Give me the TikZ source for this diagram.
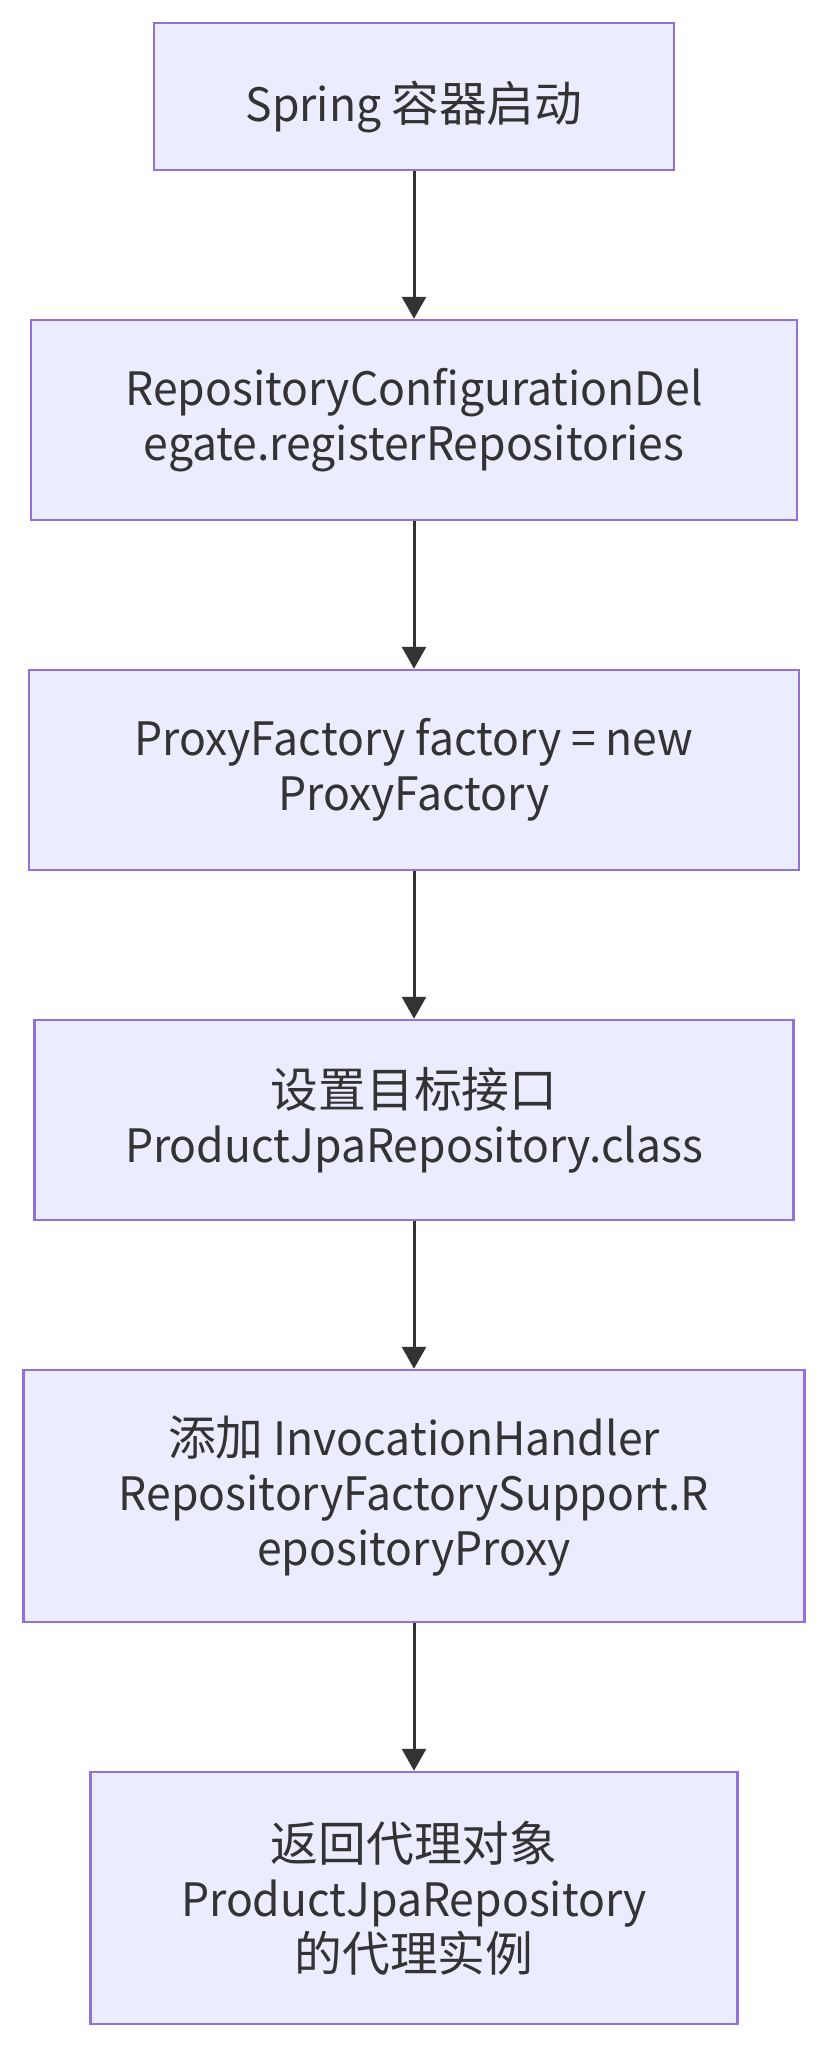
\documentclass[tikz,border=0pt]{standalone}
\usepackage{fontspec}
\setmainfont{Noto Sans CJK SC}[FakeStretch=0.967]
\newfontfamily\cjk{Noto Sans CJK SC}[Scale=1.038]
\usetikzlibrary{arrows.meta}
\definecolor{boxfill}{HTML}{ECECFF}
\definecolor{boxline}{HTML}{9370DB}
\definecolor{inkgray}{HTML}{333333}
\tikzset{
  stepbox/.style={draw=boxline, fill=boxfill, line width=2.5pt, text=inkgray,
    align=center, inner sep=0pt, font=\fontsize{46}{55}\selectfont,
    execute at begin node={\rule{0pt}{62pt}}},
  flowln/.style={-{Triangle[length=22pt,width=24pt]}, line width=3pt, draw=inkgray},
}
\begin{document}
\begin{tikzpicture}[x=1pt,y=-1pt]
  \useasboundingbox (0,0) rectangle (828,2047);
  % the six steps, top to bottom
  \node[stepbox, minimum width=520pt, minimum height=147pt] (start) at (414,96.5)
    {Spring {\cjk 容器启动}};
  \node[stepbox, minimum width=766pt, minimum height=200pt] (delegate) at (414,420)
    {RepositoryConfigurationDel\\egate.registerRepositories};
  \node[stepbox, minimum width=770pt, minimum height=200pt] (factory) at (414,770)
    {ProxyFactory factory = new\\ProxyFactory};
  \node[stepbox, minimum width=759pt, minimum height=200pt] (target) at (414,1120)
    {{\cjk 设置目标接口}\\ProductJpaRepository.class};
  \node[stepbox, minimum width=781pt, minimum height=252pt] (handler) at (414,1496)
    {{\cjk 添加} InvocationHandler\\RepositoryFactorySupport.R\\epositoryProxy};
  \node[stepbox, minimum width=647pt, minimum height=252pt] (result) at (414,1898)
    {{\cjk 返回代理对象}\\ProductJpaRepository\\{\cjk 的代理实例}};
  % arrows between steps
  \foreach \a/\b in {start/delegate, delegate/factory, factory/target,
      target/handler, handler/result} {
    \draw[flowln] (\a) -- (\b);
  }
\end{tikzpicture}
\end{document}
